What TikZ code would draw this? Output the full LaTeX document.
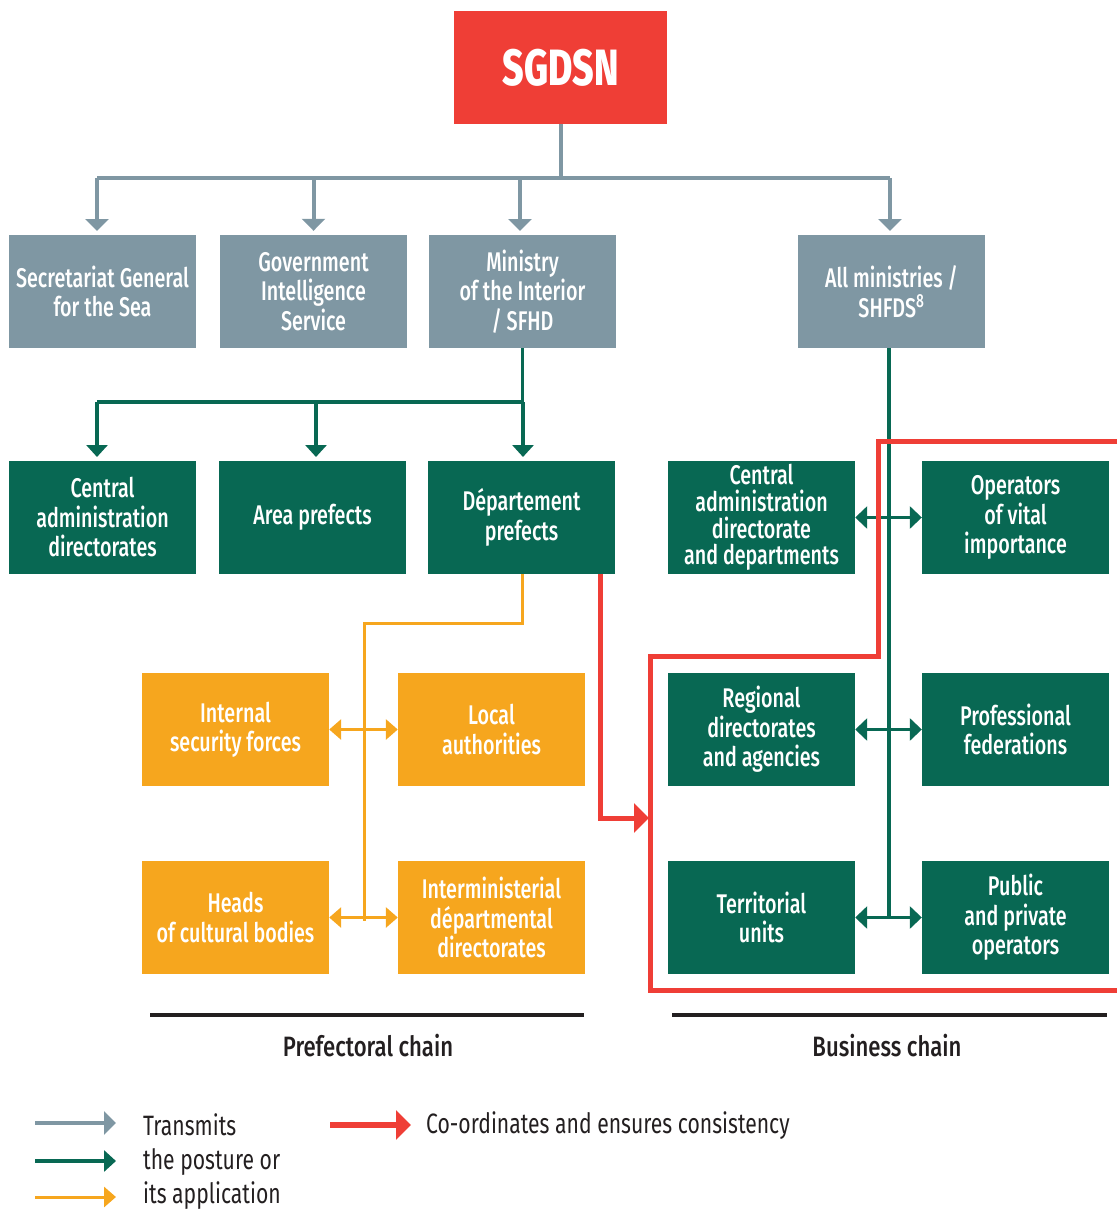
\documentclass[tikz,border=0pt]{standalone}
\usepackage{fontspec}
\setmainfont{Fira Sans}[FakeStretch=0.755]
\newfontfamily\medfont{Fira Sans Medium}[FakeStretch=0.73]
\newfontfamily\chainfont{Fira Sans Medium}[FakeStretch=0.79]
\usetikzlibrary{arrows.meta}
\definecolor{cred}{HTML}{EF3E36}
\definecolor{cgray}{HTML}{7F97A3}
\definecolor{cgreen}{HTML}{086853}
\definecolor{corange}{HTML}{F6A61E}
\definecolor{cblack}{HTML}{231F20}
\tikzset{
  box/.style={minimum width=187pt,minimum height=113pt,inner sep=0pt,align=center,text=white,
    font=\medfont\fontsize{27}{29.5}\selectfont},
  graybox/.style={box,fill=cgray},
  greenbox/.style={box,fill=cgreen},
  orangebox/.style={box,fill=corange},
  grayline/.style={draw=cgray,line width=4pt},
  greenline/.style={draw=cgreen,line width=3.5pt},
  orangeline/.style={draw=corange,line width=3pt},
  redline/.style={draw=cred,line width=5pt},
  grayarrow/.style={grayline,-{Triangle[width=23pt,length=12pt]}},
  greenarrow/.style={greenline,-{Triangle[width=21pt,length=12pt]}},
  greendouble/.style={greenline,{Triangle[width=22pt,length=12pt]}-{Triangle[width=22pt,length=12pt]}},
  orangedouble/.style={orangeline,{Triangle[width=20pt,length=12pt]}-{Triangle[width=20pt,length=12pt]}},
  orangearrow/.style={orangeline,-{Triangle[width=20pt,length=12pt]}},
  redarrow/.style={redline,-{Triangle[width=29pt,length=15pt]}},
  chainlabel/.style={text=cblack,font=\chainfont\fontsize{28}{30}\selectfont},
  legendtext/.style={text=cblack,font=\fontsize{28}{34}\selectfont,align=left,anchor=west,inner sep=0pt}
}
\begin{document}
\begin{tikzpicture}[x=1pt,y=-1pt]
\useasboundingbox (0,0) rectangle (1117,1209);

% top
\node[box,fill=cred,minimum width=213pt,minimum height=113pt,font=\medfont\bfseries\fontsize{51}{52}\selectfont] (sgdsn) at (560.5,67.5) {SGDSN};

% gray row
\node[graybox] (sea) at (102.5,291.5) {Secretariat General\\for the Sea};
\node[graybox] (gis) at (313.5,291.5) {Government\\Intelligence\\Service};
\node[graybox] (moi) at (522.5,291.5) {Ministry\\of the Interior\\/ SFHD};
\node[graybox] (allmin) at (891.5,291.5) {All ministries /\\SHFDS\textsuperscript{8}};

% green row 1
\node[greenbox] (cad) at (102.5,517.5) {Central\\administration\\directorates};
\node[greenbox] (ap) at (312.5,517.5) {Area prefects};
\node[greenbox] (dp) at (521.5,517.5) {Département\\prefects};
\node[greenbox,font=\medfont\fontsize{27}{26.7}\selectfont] (cadd) at (761.5,517.5) {Central\\administration\\directorate\\and departments};
\node[greenbox] (ovi) at (1015.5,517.5) {Operators\\of vital\\importance};

% row 2
\node[orangebox] (isf) at (235.5,729.5) {Internal\\security forces};
\node[orangebox] (la) at (491.5,729.5) {Local\\authorities};
\node[greenbox] (rda) at (761.5,729.5) {Regional\\directorates\\and agencies};
\node[greenbox] (pf) at (1015.5,729.5) {Professional\\federations};

% row 3
\node[orangebox] (hcb) at (235.5,917.5) {Heads\\of cultural bodies};
\node[orangebox] (idd) at (491.5,917.5) {Interministerial\\départmental\\directorates};
\node[greenbox] (tu) at (761.5,917.5) {Territorial\\units};
\node[greenbox] (ppo) at (1015.5,917.5) {Public\\and private\\operators};

% gray connectors
\coordinate (gbar) at (558,178);
\draw[grayline] (sgdsn.south) -- (sgdsn.south |- gbar);
\draw[grayline] (97,178) -- (890,178);
\draw[grayarrow,shorten >=4pt] (97,178) -- (97,235);
\draw[grayarrow,shorten >=4pt] (gis.north |- gbar) -- (gis.north);
\draw[grayarrow,shorten >=4pt] (520,178) -- (520,235);
\draw[grayarrow,shorten >=4pt] (890,178) -- (890,235);

% green connectors from Ministry of the Interior
\coordinate (gnbar) at (523,402);
\draw[greenline] (moi.south) -- (moi.south |- gnbar);
\draw[greenline] (97,402) -- (523.5,402);
\draw[greenarrow,shorten >=4pt] (97,402) -- (97,461);
\draw[greenarrow,shorten >=4pt] (316,402) -- (316,461);
\draw[greenarrow,shorten >=4pt] (523,402) -- (523,461);

% green business chain
\coordinate (gvend) at (889,918);
\draw[greenline] (889,348) -- (gvend);
\draw[greendouble] (cadd.east) -- (ovi.west);
\draw[greendouble] (rda.east) -- (pf.west);
\draw[greendouble] (tu.east) -- (ppo.west);

% orange prefectoral chain
\coordinate (ob1) at (522,623);
\coordinate (ob2) at (364,623);
\coordinate (ob3) at (364,921);
\draw[orangeline] (522,574) -- (ob1) -- (ob2) -- (ob3);
\draw[orangedouble] (isf.east) -- (la.west);
\draw[orangedouble] (hcb.east) -- (idd.west);

% red coordination
\draw[redline] (1117,441) -- (878,441) -- (878,656) -- (650,656) -- (650,990) -- (1117,990);
\coordinate (r0) at (600,574);
\coordinate (rend) at (649,818);
\draw[redarrow] (r0) |- (rend);

% chains
\draw[cblack,line width=4pt] (150,1015) -- (584,1015);
\draw[cblack,line width=4pt] (672,1015) -- (1107,1015);
\node[chainlabel] (pc) at (368,1046) {Prefectoral chain};
\node[chainlabel] (bc) at (887,1046) {Business chain};

% legend
\coordinate (l1a) at (35,1123); \coordinate (l1b) at (116,1123);
\coordinate (l2a) at (35,1161); \coordinate (l2b) at (116,1161);
\coordinate (l3a) at (35,1197); \coordinate (l3b) at (116,1197);
\draw[grayarrow] (l1a) -- (l1b);
\draw[greenarrow] (l2a) -- (l2b);
\draw[orangearrow] (l3a) -- (l3b);
\node[legendtext] (lt) at (143,1162) {Transmits\\the posture or\\its application};
\coordinate (l4a) at (330,1125); \coordinate (l4b) at (411,1125);
\draw[redarrow,line width=6pt] (l4a) -- (l4b);
\node[legendtext] (lr) at (426,1126) {Co-ordinates and ensures consistency};
\end{tikzpicture}
\end{document}
